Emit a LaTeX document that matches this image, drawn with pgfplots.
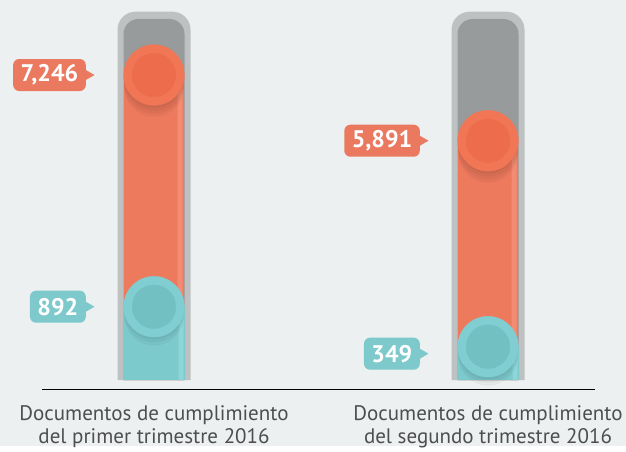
\documentclass[border=0pt]{standalone}
\usepackage{pgfplots}
\pgfplotsset{compat=1.18}
\usepackage{fontspec}
\setmainfont{PT Sans}
\definecolor{bg}{RGB}{236,240,241}
\definecolor{trackout}{RGB}{189,193,194}
\definecolor{trackin}{RGB}{151,155,156}
\definecolor{orbar}{RGB}{238,122,94}
\definecolor{orlight}{RGB}{243,140,114}
\definecolor{orring}{RGB}{241,118,86}
\definecolor{orinner}{RGB}{237,108,76}
\definecolor{orlab}{RGB}{234,121,95}
\definecolor{tlbar}{RGB}{125,202,205}
\definecolor{tllight}{RGB}{140,213,216}
\definecolor{tlring}{RGB}{128,206,209}
\definecolor{tlinner}{RGB}{115,192,195}
\definecolor{tllab}{RGB}{125,201,204}
\definecolor{txt}{RGB}{78,78,78}
\definecolor{baseline}{RGB}{200,203,204}
\pgfplotstableread{
x y lab
0 7246 {7,246}
1 5891 {5,891}
}\orangedata
\pgfplotstableread{
x y lab
0 892 {892}
1 349 {349}
}\tealdata
\tikzset{
  lab/.style={anchor=east, xshift=-68pt, fill=#1, rounded corners=6pt, text=white, font=\fontsize{24}{24}\selectfont\bfseries, minimum height=32pt, inner xsep=7.5pt, inner ysep=0pt},
}
\pgfplotsset{
  shadowmark/.style={only marks, mark=*, mark size=29.5pt, color=black, opacity=0.035, mark options={yshift=#1}},
}
\begin{document}
\begin{tikzpicture}
\fill[bg] (0,0) rectangle (626pt,446pt);
% tracks
\foreach \cx in {154,488}{
  \fill[trackout] (\cx pt-36.5pt,66pt) [rounded corners=18pt] -- (\cx pt-36.5pt,434.3pt) -- (\cx pt+36.5pt,434.3pt) [sharp corners] -- (\cx pt+36.5pt,66pt) -- cycle;
  \fill[trackin] (\cx pt-30.5pt,66pt) [rounded corners=15pt] -- (\cx pt-30.5pt,427pt) -- (\cx pt+30.5pt,427pt) [sharp corners] -- (\cx pt+30.5pt,66pt) -- cycle;
}
\draw[baseline, line width=1pt] (42pt,57pt) -- (595pt,57pt);
\begin{axis}[
  at={(0,0)}, anchor=south west,
  scale only axis, width=626pt, height=446pt,
  hide axis, clip=false,
  xmin=-0.46108, xmax=1.41317,
  ymin=-691.7, ymax=8792.8,
  y coord trafo/.code={\pgfmathparse{(#1<349) ? (#1*0.095415) : ((#1<892) ? (33.3+(#1-349)*0.073665) : ((#1<5891) ? (73.3+(#1-892)*0.033207) : (239.3+(#1-5891)*0.048487)))}},
  y coord inv trafo/.code={\pgfmathparse{#1}},
]
% orange bars
\addplot[ybar, bar width=60pt, bar shift=0pt, fill=orbar, draw=none] table[x=x,y=y] {\orangedata};
\addplot[ybar, bar width=5pt, bar shift=26pt, fill=orlight, draw=none] table[x=x,y=y] {\orangedata};
% soft shadows of orange circles
\addplot[shadowmark=-3pt] table[x=x,y=y] {\orangedata};
\addplot[shadowmark=-6pt] table[x=x,y=y] {\orangedata};
\addplot[shadowmark=-9pt] table[x=x,y=y] {\orangedata};
\addplot[shadowmark=-12pt] table[x=x,y=y] {\orangedata};
% teal bars
\addplot[ybar, bar width=62pt, bar shift=0pt, fill=tlbar, draw=none] table[x=x,y=y] {\tealdata};
\addplot[ybar, bar width=5pt, bar shift=27pt, fill=tllight, draw=none] table[x=x,y=y] {\tealdata};
\addplot[shadowmark=-3pt] table[x=x,y=y] {\tealdata};
\addplot[shadowmark=-6pt] table[x=x,y=y] {\tealdata};
\addplot[shadowmark=-9pt] table[x=x,y=y] {\tealdata};
% circles
\addplot[only marks, mark=*, mark size=30.3pt, color=orring] table[x=x,y=y] {\orangedata};
\addplot[only marks, mark=*, mark size=21.8pt, color=orinner] table[x=x,y=y] {\orangedata};
\addplot[only marks, mark=*, mark size=30.3pt, color=tlring] table[x=x,y=y] {\tealdata};
\addplot[only marks, mark=*, mark size=21.8pt, color=tlinner] table[x=x,y=y] {\tealdata};
% pointers
\addplot[only marks, mark=triangle*, mark size=6pt, color=orlab,
  mark options={xshift=-66pt, rotate=-90}] table[x=x,y=y] {\orangedata};
\addplot[only marks, mark=triangle*, mark size=6pt, color=tllab,
  mark options={xshift=-66pt, rotate=-90}, skip coords between index={1}{2}] table[x=x,y=y] {\tealdata};
\addplot[only marks, mark=triangle*, mark size=6pt, color=tllab,
  mark options={xshift=-66pt, yshift=-7pt, rotate=-90}, skip coords between index={0}{1}] table[x=x,y=y] {\tealdata};
% labels
\addplot[draw=none, mark=none, point meta=explicit symbolic, nodes near coords,
  every node near coord/.append style={lab=orlab}]
  table[x=x,y=y,meta=lab] {\orangedata};
\addplot[draw=none, mark=none, point meta=explicit symbolic, nodes near coords,
  every node near coord/.append style={lab=tllab}, skip coords between index={1}{2}]
  table[x=x,y=y,meta=lab] {\tealdata};
\addplot[draw=none, mark=none, point meta=explicit symbolic, nodes near coords,
  every node near coord/.append style={lab=tllab, yshift=-7pt}, skip coords between index={0}{1}]
  table[x=x,y=y,meta=lab] {\tealdata};
\end{axis}
\node[anchor=base, text=txt, font=\fontsize{21}{21}\selectfont] at (154pt,25.3pt) {Documentos de cumplimiento};
\node[anchor=base, text=txt, font=\fontsize{21}{21}\selectfont] at (154pt,2.7pt) {del primer trimestre 2016};
\node[anchor=base, text=txt, font=\fontsize{21}{21}\selectfont] at (488pt,25.3pt) {Documentos de cumplimiento};
\node[anchor=base, text=txt, font=\fontsize{21}{21}\selectfont] at (488pt,2.7pt) {del segundo trimestre 2016};
\end{tikzpicture}
\end{document}
